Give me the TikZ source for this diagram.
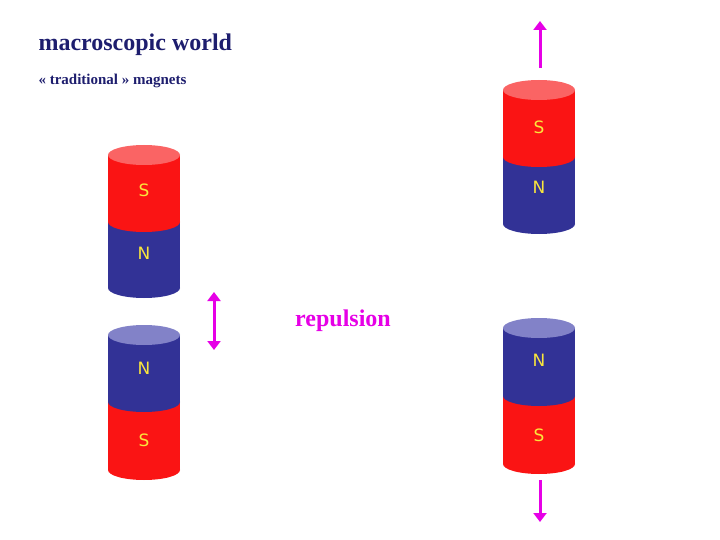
\documentclass[tikz,border=0pt]{standalone}
\usepackage{fontspec}
\usetikzlibrary{arrows.meta}
\setmainfont{Liberation Serif}
\newfontfamily\lett{DejaVu Sans}
\definecolor{mred}{RGB}{250,20,20}
\definecolor{mredcap}{RGB}{250,100,100}
\definecolor{mblue}{RGB}{50,50,150}
\definecolor{mbluecap}{RGB}{130,130,200}
\definecolor{navy}{RGB}{30,30,110}
\definecolor{mag}{RGB}{230,0,230}
\definecolor{lyel}{RGB}{250,230,60}
\tikzset{lbl/.style={text=lyel,font=\lett\fontsize{17}{17}\selectfont},
 arr/.style={mag,line width=3pt,-{Triangle[length=9pt,width=13pt]}},
 darr/.style={mag,line width=3pt,{Triangle[length=9pt,width=13pt]}-{Triangle[length=9pt,width=13pt]}}}
\newcommand{\magnetcyl}[7]{% x, top, mid, bot, topcolor, botcolor, capcolor
 \fill[#6] (#1-36,#3) rectangle (#1+36,#4); \fill[#6] (#1,#4) ellipse[x radius=36,y radius=10];
 \fill[#5] (#1-36,#2) rectangle (#1+36,#3); \fill[#5] (#1,#3) ellipse[x radius=36,y radius=10];
 \fill[#7] (#1,#2) ellipse[x radius=36,y radius=10];}
\begin{document}
\begin{tikzpicture}[x=1pt,y=-1pt]
\useasboundingbox (0,0) rectangle (720,540);
\node[anchor=west,text=navy,font=\bfseries\fontsize{24}{24}\selectfont] (t1) at (35,45) {macroscopic world};
\node[anchor=west,text=navy,font=\bfseries\fontsize{15}{15}\selectfont] (t2) at (35,81) {« traditional » magnets};
\node[text=mag,font=\bfseries\fontsize{24}{24}\selectfont] (rep) at (343,321) {repulsion};
\magnetcyl{144}{155}{222}{288}{mred}{mblue}{mredcap}
\node[lbl] (a1) at (144,190) {S};
\node[lbl] (a2) at (144,253) {N};
\magnetcyl{144}{335}{402}{470}{mblue}{mred}{mbluecap}
\node[lbl] (b1) at (144,368) {N};
\node[lbl] (b2) at (144,440) {S};
\magnetcyl{539}{90}{157}{224}{mred}{mblue}{mredcap}
\node[lbl] (c1) at (539,127) {S};
\node[lbl] (c2) at (539,187) {N};
\magnetcyl{539}{328}{396}{464}{mblue}{mred}{mbluecap}
\node[lbl] (d1) at (539,360) {N};
\node[lbl] (d2) at (539,435) {S};
\coordinate (u0) at (540,68); \coordinate (u1) at (540,21);
\coordinate (l0) at (540,480); \coordinate (l1) at (540,522);
\coordinate (m0) at (214,292); \coordinate (m1) at (214,350);
\draw[arr] (u0) -- (u1);
\draw[arr] (l0) -- (l1);
\draw[darr] (m0) -- (m1);
\end{tikzpicture}
\end{document}
